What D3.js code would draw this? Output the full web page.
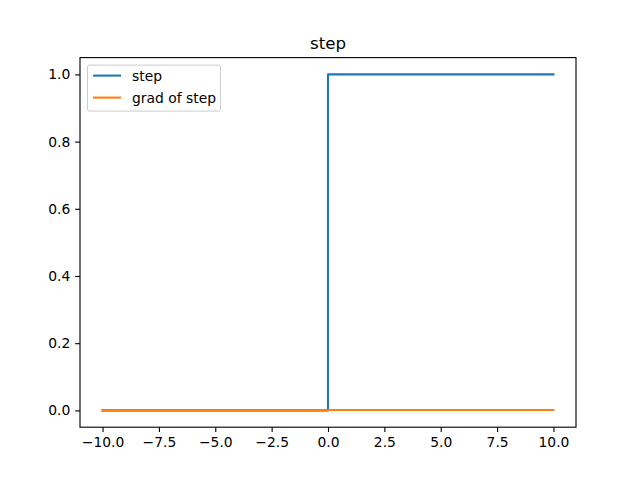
<!DOCTYPE html>
<html><head><meta charset="utf-8">
<script src="https://cdn.jsdelivr.net/npm/d3@7"></script>
<style>body{margin:0;background:#fff}svg{display:block;font-family:"DejaVu Sans",sans-serif}</style>
</head><body>
<script>
const title = "step";
const stepX = [-10, 0, 0, 10];
const stepY = [0, 0, 1, 1];
const gradX = [-10, 0, 0, 10];
const gradY = [0, 0, 0.001, 0.001];
const seriesNames = ["step", "grad of step"];
const colors = ["#1f77b4", "#ff7f0e"];
const xTicks = [-10, -7.5, -5, -2.5, 0, 2.5, 5, 7.5, 10];
const yTicks = [0, 0.2, 0.4, 0.6, 0.8, 1.0];

const W = 640, H = 480;
const L = 80, R = 576, T = 57.6, B = 427.2;
const pt = 100 / 72;
const svg = d3.select("body").append("svg").attr("width", W).attr("height", H);
const x = d3.scaleLinear().domain([-11, 11]).range([L, R]);
const y = d3.scaleLinear().domain([-0.05, 1.05]).range([B, T]);

const line = d3.line().x(d => x(d[0])).y(d => y(d[1]));
const series = [d3.zip(stepX, stepY), d3.zip(gradX, gradY)];
svg.append("g").selectAll("path").data(series).join("path")
  .attr("d", line).attr("fill", "none")
  .attr("stroke", (d, i) => colors[i]).attr("stroke-width", 1.5 * pt)
  .attr("stroke-linejoin", "round").attr("stroke-linecap", "square");

const xa = svg.append("g").attr("transform", `translate(0,${B})`)
  .call(d3.axisBottom(x).tickValues(xTicks).tickSize(3.5 * pt).tickPadding(3.5 * pt).tickFormat(d => d3.format(".1f")(d).replace("-", "\u2212")));
const ya = svg.append("g").attr("transform", `translate(${L},0)`)
  .call(d3.axisLeft(y).tickValues(yTicks).tickSize(3.5 * pt).tickPadding(3.5 * pt).tickFormat(d3.format(".1f")));
[xa, ya].forEach(a => {
  a.selectAll("text").attr("font-size", 10 * pt).attr("fill", "#000").attr("font-family", "DejaVu Sans");
  a.selectAll("line").attr("stroke", "#000").attr("stroke-width", 0.8 * pt);
  a.select(".domain").remove();
});
svg.append("rect").attr("x", L).attr("y", T).attr("width", R - L).attr("height", B - T)
  .attr("fill", "none").attr("stroke", "#000").attr("stroke-width", 0.8 * pt);

svg.append("text").attr("x", (L + R) / 2).attr("y", T - 6 * pt).attr("text-anchor", "middle")
  .attr("font-size", 12 * pt).attr("fill", "#000").text(title);

const lg = svg.append("g").attr("transform", `translate(${L + 7.5},${T + 7.5})`);
lg.append("rect").attr("width", 133).attr("height", 46).attr("rx", 2)
  .attr("fill", "#fff").attr("fill-opacity", 0.8).attr("stroke", "#ccc").attr("stroke-width", 1);
seriesNames.forEach((n, i) => {
  const yy = 10.5 + i * 22;
  lg.append("line").attr("x1", 5.5).attr("x2", 33.5).attr("y1", yy).attr("y2", yy)
    .attr("stroke", colors[i]).attr("stroke-width", 1.5 * pt);
  lg.append("text").attr("x", 44.5).attr("y", yy + 5).attr("font-size", 10 * pt).attr("fill", "#000").text(n);
});
</script>
</body></html>
